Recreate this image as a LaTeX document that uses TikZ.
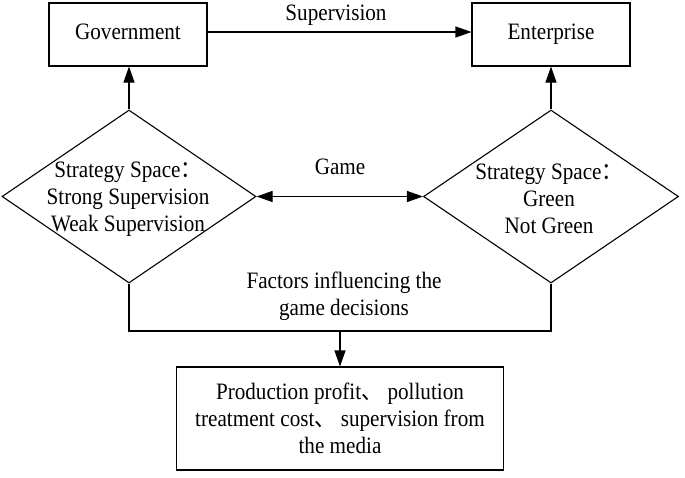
\documentclass[tikz,border=0pt]{standalone}
\usepackage{fontspec}
\setmainfont[FakeStretch=0.9]{Liberation Serif}
\newfontfamily\cjk[FakeStretch=0.9]{Noto Sans CJK SC}
\usetikzlibrary{arrows.meta,shapes.geometric}
\tikzset{
  box/.style={draw, line width=1.1pt, rectangle, inner sep=0pt, align=center},
  onebox/.style={box, text height=15pt, text depth=5pt},
  dia/.style={draw, line width=1.1pt, diamond, inner sep=0pt},
  lab/.style={inner sep=0pt, align=center},
  conn/.style={line width=1.1pt},
  tip/.tip={Triangle[length=16pt,width=11pt]},
  arr/.style={line width=1.1pt, -tip},
  darr/.style={line width=1.1pt, tip-tip},
}
\begin{document}
\begin{tikzpicture}[x=1pt,y=-1pt,font=\fontsize{23.5}{27}\selectfont]
\useasboundingbox (0,0) rectangle (685,477);
\node[onebox, minimum width=158pt, minimum height=63pt] (gov) at (128,34.5) {Government};
\node[onebox, minimum width=158pt, minimum height=63pt] (ent) at (551,34.5) {Enterprise};
\node[dia, minimum width=254pt, minimum height=173pt] (gdia) at (129,196.5) {};
\node[dia, minimum width=255pt, minimum height=173pt] (edia) at (551,196.5) {};
\node[box, minimum width=327pt, minimum height=103pt] (fac) at (340,418.5) {Production profit{\cjk 、} pollution\\treatment cost{\cjk 、} supervision from\\the media};
\node[lab] (gtext) at (128,199) {Strategy Space{\cjk ：}\\Strong Supervision\\Weak Supervision};
\node[lab] (etext) at (549,199) {Strategy Space{\cjk ：}\\Green\\Not Green};
\node[lab] (suplab) at (336,15) {Supervision};
\node[lab] (gamelab) at (340,167) {Game};
\node[lab] (faclab) at (344,296) {Factors influencing the\\game decisions};
\coordinate (sy) at (0,32);
\coordinate (jl) at (129,331);
\coordinate (jr) at (551,331);
\coordinate (jm) at (340,331);
\draw[arr] (gov.east |- sy) -- (ent.west |- sy);
\draw[arr] (gdia.north) -- (gdia.north |- gov.south);
\draw[arr] (edia.north) -- (ent.south);
\draw[darr] (gdia.east) -- (edia.west);
\draw[conn] (gdia.south) -- (jl) -- (jr) -- (edia.south);
\draw[arr] (jm) -- (fac.north);
\end{tikzpicture}
\end{document}
